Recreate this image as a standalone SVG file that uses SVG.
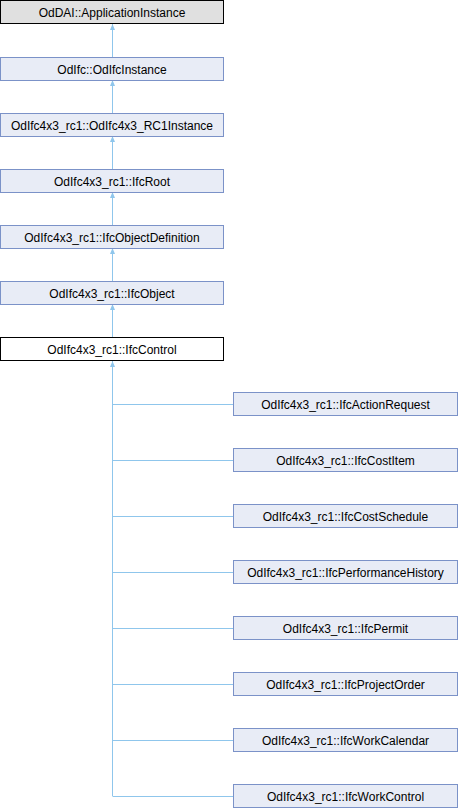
<svg xmlns="http://www.w3.org/2000/svg" width="458" height="808" viewBox="0 0 458 808">
<style>
.n rect{fill:#E8ECF6;stroke:#7B92C8;stroke-width:1}
.n text{font-family:"Liberation Sans",Arial,sans-serif;font-size:12px;fill:#000;text-anchor:middle}
.e{stroke:#8FC6EC;stroke-width:1;fill:none}
</style>
<defs>
<marker id="a" markerWidth="6" markerHeight="6" refX="6" refY="3" orient="auto" markerUnits="userSpaceOnUse" viewBox="0 0 6 6">
<path d="M0,0.5 L6,3 L0,5.5 Z" fill="#8FC6EC"/>
</marker>
</defs>
<g id="edges">
<path class="e" d="M112.5,57 V24" marker-end="url(#a)"/>
<path class="e" d="M112.5,113 V80" marker-end="url(#a)"/>
<path class="e" d="M112.5,169 V136" marker-end="url(#a)"/>
<path class="e" d="M112.5,225 V192" marker-end="url(#a)"/>
<path class="e" d="M112.5,281 V248" marker-end="url(#a)"/>
<path class="e" d="M112.5,337 V304" marker-end="url(#a)"/>
<path class="e" d="M112.5,796 V361" marker-end="url(#a)"/>
<path class="e" d="M112.5,404.5 H233 M112.5,460.5 H233 M112.5,516.5 H233 M112.5,572.5 H233 M112.5,628.5 H233 M112.5,684.5 H233 M112.5,740.5 H233 M112.5,796.5 H233"/>
</g>
<g id="n0" class="n"><rect x="0.5" y="0.5" width="223" height="23" style="fill:#E0E0E0;stroke:#000"/><text x="112" y="16.5">OdDAI::ApplicationInstance</text></g>
<g id="n1" class="n"><rect x="0.5" y="57.5" width="223" height="23"/><text x="112" y="73.5">OdIfc::OdIfcInstance</text></g>
<g id="n2" class="n"><rect x="0.5" y="113.5" width="223" height="23"/><text x="112" y="129.5">OdIfc4x3_rc1::OdIfc4x3_RC1Instance</text></g>
<g id="n3" class="n"><rect x="0.5" y="169.5" width="223" height="23"/><text x="112" y="185.5">OdIfc4x3_rc1::IfcRoot</text></g>
<g id="n4" class="n"><rect x="0.5" y="225.5" width="223" height="23"/><text x="112" y="241.5">OdIfc4x3_rc1::IfcObjectDefinition</text></g>
<g id="n5" class="n"><rect x="0.5" y="281.5" width="223" height="23"/><text x="112" y="297.5">OdIfc4x3_rc1::IfcObject</text></g>
<g id="n6" class="n"><rect x="0.5" y="337.5" width="223" height="23" style="fill:#FFFFFF;stroke:#000"/><text x="112" y="353.5">OdIfc4x3_rc1::IfcControl</text></g>
<g id="n7" class="n"><rect x="233.5" y="392.5" width="224" height="23"/><text x="345.5" y="408.5">OdIfc4x3_rc1::IfcActionRequest</text></g>
<g id="n8" class="n"><rect x="233.5" y="448.5" width="224" height="23"/><text x="345.5" y="464.5">OdIfc4x3_rc1::IfcCostItem</text></g>
<g id="n9" class="n"><rect x="233.5" y="504.5" width="224" height="23"/><text x="345.5" y="520.5">OdIfc4x3_rc1::IfcCostSchedule</text></g>
<g id="n10" class="n"><rect x="233.5" y="560.5" width="224" height="23"/><text x="345.5" y="576.5">OdIfc4x3_rc1::IfcPerformanceHistory</text></g>
<g id="n11" class="n"><rect x="233.5" y="616.5" width="224" height="23"/><text x="345.5" y="632.5">OdIfc4x3_rc1::IfcPermit</text></g>
<g id="n12" class="n"><rect x="233.5" y="672.5" width="224" height="23"/><text x="345.5" y="688.5">OdIfc4x3_rc1::IfcProjectOrder</text></g>
<g id="n13" class="n"><rect x="233.5" y="728.5" width="224" height="23"/><text x="345.5" y="744.5">OdIfc4x3_rc1::IfcWorkCalendar</text></g>
<g id="n14" class="n"><rect x="233.5" y="784.5" width="224" height="23"/><text x="345.5" y="800.5">OdIfc4x3_rc1::IfcWorkControl</text></g>
</svg>
